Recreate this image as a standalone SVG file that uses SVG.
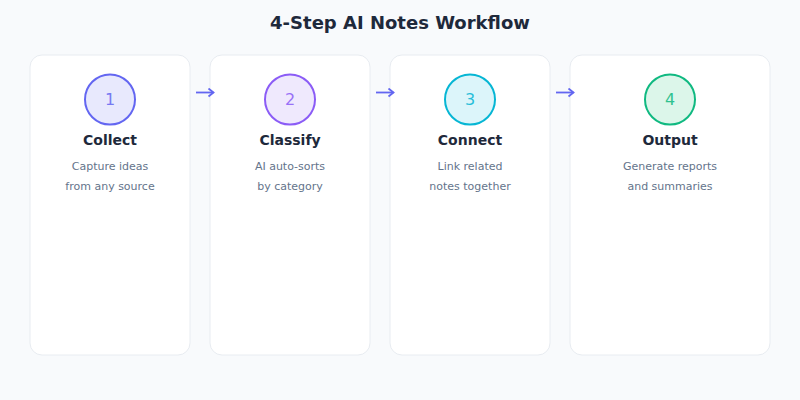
<svg xmlns="http://www.w3.org/2000/svg" width="800" height="400" viewBox="0 0 800 400">
<defs>
<marker id="ah" markerWidth="10" markerHeight="10" refX="7.5" refY="5" orient="auto" markerUnits="userSpaceOnUse">
<path d="M2.5,1 L7.5,5 L2.5,9" fill="none" stroke="#6366f1" stroke-width="1.8"/>
</marker>
<style>
.card{fill:#ffffff;stroke:#e8ecf1;stroke-width:1}
.title{font-family:"DejaVu Sans",sans-serif;font-weight:bold;font-size:18px;fill:#1e293b;text-anchor:middle}
.head{font-family:"DejaVu Sans",sans-serif;font-weight:bold;font-size:14px;fill:#1e293b;text-anchor:middle}
.desc{font-family:"DejaVu Sans",sans-serif;font-size:11px;fill:#64748b;text-anchor:middle}
.num{font-family:"DejaVu Sans",sans-serif;font-size:16px;text-anchor:middle;opacity:0.85}
.conn{stroke:#6366f1;stroke-width:1.8;fill:none}
</style>
</defs>
<rect width="800" height="400" fill="#f8fafc"/>
<text class="title" x="400" y="29">4-Step AI Notes Workflow</text>
<g id="step1">
<rect class="card" x="30" y="55" width="160" height="300" rx="12"/>
<circle cx="110" cy="99.5" r="25" fill="#e8e9fd" stroke="#6366f1" stroke-width="2"/>
<text class="num" x="110" y="105" fill="#6366f1">1</text>
<text class="head" x="110" y="145">Collect</text>
<text class="desc" x="110" y="170">Capture ideas</text>
<text class="desc" x="110" y="190">from any source</text>
</g>
<g id="step2">
<rect class="card" x="210" y="55" width="160" height="300" rx="12"/>
<circle cx="290" cy="99.5" r="25" fill="#efe9fd" stroke="#8b5cf6" stroke-width="2"/>
<text class="num" x="290" y="105" fill="#8b5cf6">2</text>
<text class="head" x="290" y="145">Classify</text>
<text class="desc" x="290" y="170">AI auto-sorts</text>
<text class="desc" x="290" y="190">by category</text>
</g>
<g id="step3">
<rect class="card" x="390" y="55" width="160" height="300" rx="12"/>
<circle cx="470" cy="99.5" r="25" fill="#dcf5fa" stroke="#06b6d4" stroke-width="2"/>
<text class="num" x="470" y="105" fill="#06b6d4">3</text>
<text class="head" x="470" y="145">Connect</text>
<text class="desc" x="470" y="170">Link related</text>
<text class="desc" x="470" y="190">notes together</text>
</g>
<g id="step4">
<rect class="card" x="570" y="55" width="200" height="300" rx="12"/>
<circle cx="670" cy="99.5" r="25" fill="#dcf6ea" stroke="#10b981" stroke-width="2"/>
<text class="num" x="670" y="105" fill="#10b981">4</text>
<text class="head" x="670" y="145">Output</text>
<text class="desc" x="670" y="170">Generate reports</text>
<text class="desc" x="670" y="190">and summaries</text>
</g>
<g id="connectors">
<line class="conn" x1="196" y1="92.5" x2="213.5" y2="92.5" marker-end="url(#ah)"/>
<line class="conn" x1="376" y1="92.5" x2="393.5" y2="92.5" marker-end="url(#ah)"/>
<line class="conn" x1="556" y1="92.5" x2="573.5" y2="92.5" marker-end="url(#ah)"/>
</g>
</svg>
